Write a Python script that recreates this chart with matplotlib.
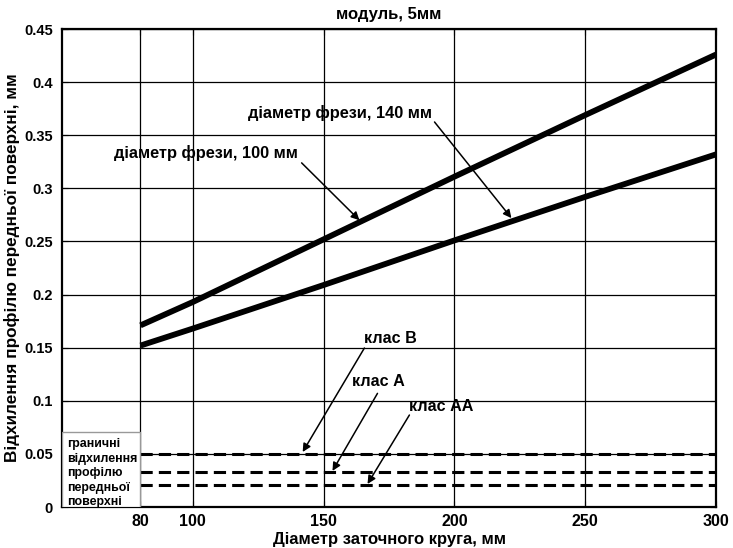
import matplotlib.pyplot as plt

plt.rcParams['font.family'] = ['Liberation Sans', 'DejaVu Sans']
plt.rcParams['font.weight'] = 'bold'

# grinding wheel diameter, mm
wheel_d = [80, 100, 150, 200, 250, 300]
# profile deviation for cutter diameters
dev_140 = [0.171, 0.193, 0.252, 0.311, 0.369, 0.426]
dev_100 = [0.152, 0.168, 0.209, 0.251, 0.292, 0.332]

# tolerance classes
class_x = [80, 300]
class_b = 0.050
class_a = 0.033
class_aa = 0.021

xticks = [80, 100, 150, 200, 250, 300]
yticks = [0, 0.05, 0.1, 0.15, 0.2, 0.25, 0.3, 0.35, 0.4, 0.45]
ytick_labels = ['0', '0.05', '0.1', '0.15', '0.2', '0.25', '0.3', '0.35', '0.4', '0.45']

fig = plt.figure(figsize=(7.33, 5.48), dpi=100)
ax = fig.add_axes([0.0846, 0.0748, 0.8922, 0.8722])

ax.plot(wheel_d, dev_140, color='black', lw=4.2, solid_capstyle='butt')
ax.plot(wheel_d, dev_100, color='black', lw=4.2, solid_capstyle='butt')

for v in [class_b, class_a, class_aa]:
    ax.plot(class_x, [v, v], color='black', lw=2.2, dashes=(4, 2))

ax.set_xlim(50, 300)
ax.set_ylim(0, 0.45)
ax.set_xticks(xticks)
ax.set_yticks(yticks)
ax.set_yticklabels(ytick_labels)
ax.grid(True, color='black', lw=0.9)
ax.tick_params(direction='in', length=4, top=True, right=True)
ax.tick_params(axis='x', labelsize=11.5, pad=5)
ax.tick_params(axis='y', labelsize=10.5, pad=6.5)
for s in ax.spines.values():
    s.set_linewidth(1.6)

ax.set_title('модуль, 5мм', fontsize=12, fontweight='bold', pad=7)
ax.set_xlabel('Діаметр заточного круга, мм', fontsize=12, fontweight='bold', labelpad=2)
ax.set_ylabel('Відхилення профілю передньої поверхні, мм', fontsize=12.3,
              fontweight='bold', labelpad=3)

arrow = dict(arrowstyle='-|>', color='black', lw=1.1, mutation_scale=12,
             shrinkA=0, shrinkB=0)

ax.text(121, 0.371, 'діаметр фрези, 140 мм', fontsize=11.8, fontweight='bold',
        va='center', ha='left')
ax.annotate('', xy=(221.8, 0.272), xytext=(192.4, 0.3625), arrowprops=arrow)

ax.text(69.8, 0.333, 'діаметр фрези, 100 мм', fontsize=11.8, fontweight='bold',
        va='center', ha='left')
ax.annotate('', xy=(163.7, 0.270), xytext=(141.6, 0.324), arrowprops=arrow)

ax.text(165.6, 0.159, 'клас В', fontsize=11.6, fontweight='bold', va='center', ha='left')
ax.annotate('', xy=(142.0, 0.0518), xytext=(165.6, 0.1497), arrowprops=arrow)

ax.text(161.0, 0.118, 'клас А', fontsize=11.6, fontweight='bold', va='center', ha='left')
ax.annotate('', xy=(153.4, 0.034), xytext=(170.6, 0.107), arrowprops=arrow)

ax.text(182.8, 0.095, 'клас АА', fontsize=11.6, fontweight='bold', va='center', ha='left')
ax.annotate('', xy=(166.8, 0.0217), xytext=(182.8, 0.0866), arrowprops=arrow)

# boxed note on the left
box = plt.Rectangle((50, 0), 30, 0.071, facecolor='white', edgecolor='#999999',
                    lw=1.0, zorder=3)
ax.add_patch(box)
note = ['граничні', 'відхилення', 'профілю', 'передньої', 'поверхні']
note_y = [0.0593, 0.0452, 0.032, 0.0179, 0.0047]
for t, y in zip(note, note_y):
    ax.text(51.9, y, t, fontsize=8.9, fontweight='bold', va='center', ha='left',
            zorder=4, clip_on=True)

fig.savefig('out.png', dpi=100)
